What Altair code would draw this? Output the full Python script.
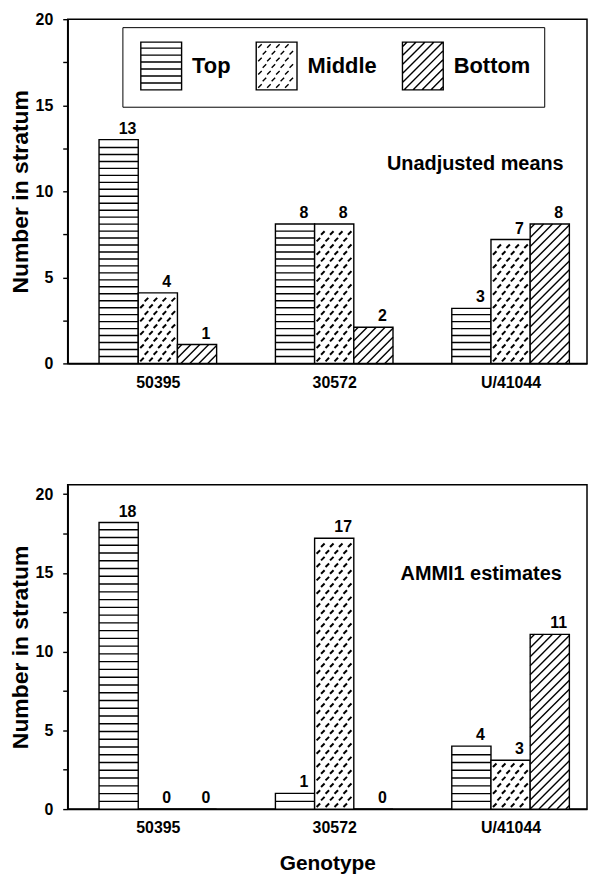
import altair as alt
import pandas as pd

# ---------------- data ----------------
genotypes = ["50395", "30572", "U/41044"]
strata = ["Top", "Middle", "Bottom"]
unadj_top = [13.0, 8.1, 3.2]
unadj_middle = [4.1, 8.1, 7.2]
unadj_bottom = [1.1, 2.1, 8.1]
ammi_top = [18.2, 1.0, 4.0]
ammi_middle = [0.0, 17.2, 3.1]
ammi_bottom = [0.0, 0.0, 11.1]
y_ticks = [0, 2.5, 5, 7.5, 10, 12.5, 15, 17.5, 20]
panel_notes = ["Unadjusted means", "AMMI1 estimates"]
y_title = "Number in stratum"
x_title = "Genotype"

# ---------------- layout / style ----------------
FONT = "Liberation Sans"
W = 522
H = [346, 326]
XDOM = [-0.8, 12.45]
STEP = 4.5
YDOM = [[0, 20], [0, 20.6]]
STRIPE = [7.0, 7.8]
DIAG = 9.0
DASH_DX, DASH_DY, DASH_L = 9.0, 6.7, 5.0
NOTE_POS = [(9.6, 11.6), (9.75, 14.9)]
LINE_W = 1.4
DASH_W = 2.0


def segs_px(kind, w, h, stripe):
    """hatch segments inside a w x h pixel box, origin bottom-left, y up"""
    out = []
    if h <= 1:
        return out
    if kind == "Top":
        y = stripe
        while y < h - 1.5:
            out.append((0, y, w, y))
            y += stripe
    elif kind == "Bottom":
        c = -h + DIAG / 2
        while c < w:
            us, ue = max(0.0, c), min(w, h + c)
            if ue - us > 0.7:
                out.append((us, us - c, ue, ue - c))
            c += DIAG
    else:
        half = DASH_L / 2 / 2 ** 0.5
        r = 0
        y = DASH_DY / 2 + 0.5
        while y + half < h - 1:
            x = half + 2 + (r % 2) * DASH_DX / 2
            while x + half < w - 1.5:
                out.append((x - half, y - half, x + half, y + half))
                x += DASH_DX
            y += DASH_DY
            r += 1
    return out


def symbol_path(kind):
    w, h, u = 41.0, 48.0, 24.0
    hw, hh = w / 2 / u, h / 2 / u
    p = [f"M{-hw:.3f},{-hh:.3f}H{hw:.3f}V{hh:.3f}H{-hw:.3f}Z"]
    for (a, b, c, d) in segs_px(kind, w, h, 7.0):
        p.append(f"M{(a-w/2)/u:.3f},{-(b-h/2)/u:.3f}L{(c-w/2)/u:.3f},{-(d-h/2)/u:.3f}")
    return "".join(p)


label_expr = str(genotypes).replace("'", '"') + f"[round((datum.value - 1.5) / {STEP})]"
x_values = [g * STEP + 1.5 for g in range(len(genotypes))]


def panel(i, series, show_legend):
    px_x = W / (XDOM[1] - XDOM[0])
    px_y = H[i] / YDOM[i][1]
    rows, segs = [], []
    for g, gen in enumerate(genotypes):
        for s, st in enumerate(strata):
            v = series[s][g]
            x0 = g * STEP + s
            rows.append(dict(genotype=gen, stratum=st, value=v, x0=x0, x1=x0 + 1,
                             xc=x0 + 0.5, label=f"{round(v)}"))
            sw = DASH_W if st == "Middle" else LINE_W
            for (a, b, c, d) in segs_px(st, px_x, v * px_y, STRIPE[i]):
                segs.append(dict(xa=x0 + a / px_x, ya=b / px_y, xb=x0 + c / px_x,
                                 yb=d / px_y, sw=sw))
    bars = pd.DataFrame(rows)
    hatch = pd.DataFrame(segs)

    xs = alt.Scale(domain=XDOM, nice=False, zero=False)
    ys = alt.Scale(domain=YDOM[i], nice=False)
    xaxis = alt.Axis(values=x_values, labelExpr=label_expr, ticks=False, grid=False,
                     domainColor="black", domainWidth=1.5, labelFont=FONT, labelFontSize=16,
                     labelFontWeight="bold", labelColor="black", labelPadding=11,
                     title=x_title if i == 1 else None, titleFont=FONT, titleFontSize=21,
                     titleFontWeight="bold", titleColor="black", titlePadding=17)
    yaxis = alt.Axis(values=y_ticks, labelExpr="datum.value % 5 === 0 ? datum.label : ''",
                     grid=False, tickSize=5, tickWidth=1.4, tickColor="black",
                     domainColor="black", domainWidth=1.5, labelFont=FONT, labelFontSize=16,
                     labelFontWeight="bold", labelColor="black", labelPadding=10,
                     title=y_title, titleFont=FONT, titleFontSize=23, titleFontWeight="bold",
                     titleColor="black", titlePadding=3)

    base = alt.Chart(bars)
    rect = base.mark_rect(fill="white", stroke="black", strokeWidth=LINE_W).encode(
        x=alt.X("x0:Q", scale=xs, axis=xaxis), x2="x1:Q",
        y=alt.Y("value:Q", scale=ys, axis=yaxis), y2=alt.datum(0))
    lines = alt.Chart(hatch).mark_rule(color="black").encode(
        x="xa:Q", y="ya:Q", x2="xb:Q", y2="yb:Q",
        strokeWidth=alt.StrokeWidth("sw:Q", scale=None, legend=None))
    text = base.mark_text(align="center", baseline="bottom", dx=9, dy=-3, font=FONT,
                          fontSize=16, fontWeight="bold", color="black").encode(
        x="xc:Q", y="value:Q", text="label:N")
    note = alt.Chart(pd.DataFrame([dict(x=NOTE_POS[i][0], y=NOTE_POS[i][1], t=panel_notes[i])])
                     ).mark_text(align="center", baseline="middle", font=FONT, fontSize=20,
                                 fontWeight="bold", color="black").encode(
        x="x:Q", y="y:Q", text="t:N")
    layers = [rect, lines, text, note]
    if show_legend:
        leg = alt.Legend(title=None, orient="none", legendX=55, legendY=8,
                         direction="horizontal", symbolSize=2304, symbolStrokeWidth=LINE_W,
                         symbolStrokeColor="black", symbolFillColor="white", symbolOpacity=1,
                         labelFont=FONT, labelFontSize=22, labelFontWeight="bold",
                         labelColor="black", labelOffset=6, columnPadding=21, padding=14,
                         strokeColor="black")
        pts = base.mark_point(opacity=0, color="black", strokeWidth=LINE_W).encode(
            x="xc:Q", y="value:Q",
            shape=alt.Shape("stratum:N", sort=strata,
                            scale=alt.Scale(domain=strata,
                                            range=[symbol_path(k) for k in strata]),
                            legend=leg))
        layers.append(pts)
    return alt.layer(*layers).properties(width=W, height=H[i])


top = panel(0, [unadj_top, unadj_middle, unadj_bottom], True)
bottom = panel(1, [ammi_top, ammi_middle, ammi_bottom], False)

chart = alt.vconcat(top, bottom, spacing=93).properties(
    padding={"left": 0, "top": 0, "right": 0, "bottom": 0}
).configure_view(stroke="black", strokeWidth=1.5)

chart.save("out.html", embed_options={"renderer": "svg", "actions": False})
